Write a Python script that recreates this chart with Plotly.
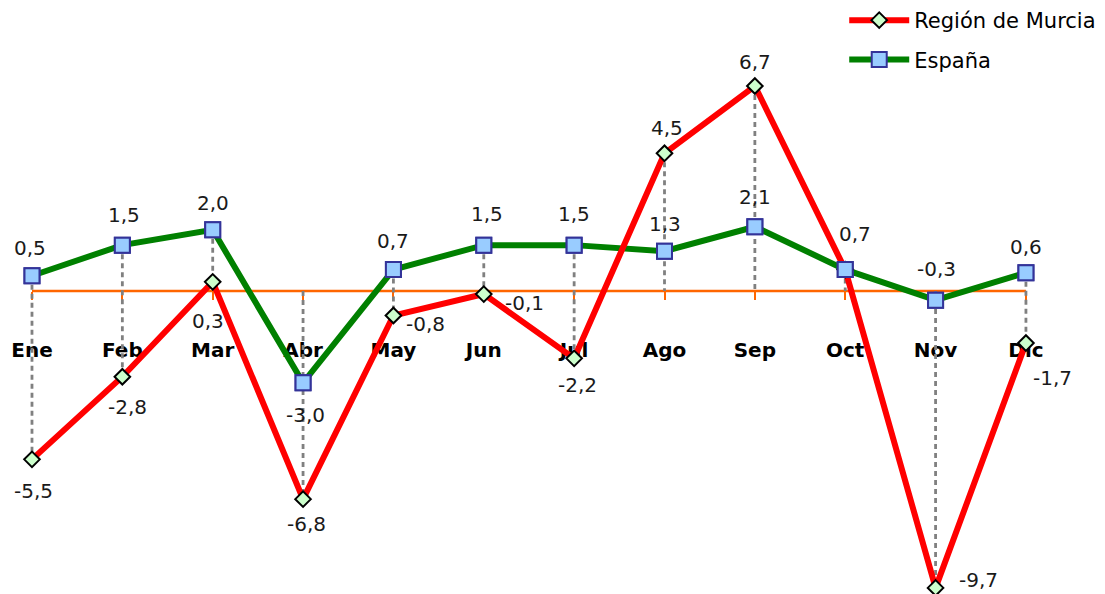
import plotly.graph_objects as go

months = ["Ene", "Feb", "Mar", "Abr", "May", "Jun", "Jul", "Ago", "Sep", "Oct", "Nov", "Dic"]
murcia = [-5.5, -2.8, 0.3, -6.8, -0.8, -0.1, -2.2, 4.5, 6.7, 0.7, -9.7, -1.7]
espana = [0.5, 1.5, 2.0, -3.0, 0.7, 1.5, 1.5, 1.3, 2.1, 0.7, -0.3, 0.6]

# label offsets (px, right / down) — style only
murcia_label_off = [(2, 32), (5, 30), (-5, 39), (3, 25), (32, 8), (41, 9),
                    (3, 27), (2, -25), (0, -24), None, (43, -8), (27, 35)]
espana_label_off = [(-2, -28), (2, -30), (0, -27), (2, 32), (0, -29), (3, -31),
                    (0, -31), (0, -27), (0, -30), (10, -36), (1, -31), (0, -26)]

def fmt(v):
    return f"{v:.1f}".replace(".", ",")

Y_MIN, Y_MAX = -9.9, 9.51
X_MIN, X_MAX = -0.354, 11.875
FONT = "DejaVu Sans"
TXT = "#1a1a1a"

fig = go.Figure()

# drop lines
dx, dy = [], []
for m, a, b in zip(months, murcia, espana):
    dx += [m, m, None]
    dy += [max(a, b, 0), min(a, b, 0), None]
fig.add_trace(go.Scatter(x=dx, y=dy, mode="lines", showlegend=False, hoverinfo="skip",
                         line=dict(color="#808080", width=2.8, dash="5px,4px")))

# zero axis line across categories
fig.add_shape(type="line", xref="x", yref="y", x0=months[0], x1=months[-1], y0=0, y1=0,
              line=dict(color="#FF6600", width=2.5), layer="below")

sq = dict(symbol="square", size=15, color="#99CCFF", line=dict(color="#333399", width=2))
dm = dict(symbol="diamond", size=12, color="#CCFFCC", line=dict(color="#000000", width=2))

fig.add_trace(go.Scatter(
    x=months, y=espana, mode="lines+markers", name="España", legendrank=2, legendgroup="e",
    line=dict(color="#008000", width=6), marker=sq,
))
fig.add_trace(go.Scatter(
    x=months, y=murcia, mode="lines+markers", name="Región de Murcia", legendrank=1,
    legendgroup="m",
    line=dict(color="#FF0000", width=6), marker=dm,
))
fig.add_trace(go.Scatter(
    x=months, y=espana, mode="markers", showlegend=False, hoverinfo="skip", legendgroup="e",
    marker=sq,
))

for vals, offs in ((espana, espana_label_off), (murcia, murcia_label_off)):
    for m, v, o in zip(months, vals, offs):
        if o is None:
            continue
        fig.add_annotation(x=m, y=v, xref="x", yref="y", text=fmt(v), showarrow=False,
                           xanchor="center", yanchor="middle", xshift=o[0], yshift=-o[1],
                           font=dict(family=FONT, size=20, color=TXT))

zero_frac = (0 - Y_MIN) / (Y_MAX - Y_MIN)

fig.update_layout(
    width=1105, height=594,
    margin=dict(l=0, r=0, t=0, b=0),
    paper_bgcolor="white", plot_bgcolor="white",
    font=dict(family=FONT, size=20, color="#000000"),
    xaxis=dict(type="category", range=[X_MIN, X_MAX], showgrid=False, zeroline=False,
               showline=False, anchor="free", position=zero_frac, layer="below traces",
               ticks="outside", ticklen=8, tickwidth=2, tickcolor="#FF6600",
               ticklabelstandoff=33,
               tickfont=dict(family=FONT, size=20, color="#000000", weight="bold")),
    yaxis=dict(range=[Y_MIN, Y_MAX], visible=False, showgrid=False, zeroline=False),
    legend=dict(x=0.764, y=1.0, xanchor="left", yanchor="top", bgcolor="rgba(0,0,0,0)",
                font=dict(family=FONT, size=21, color="#000000"), itemwidth=60,
                traceorder="grouped", tracegroupgap=9),
    showlegend=True,
)

fig.write_html("out.html", config={"displayModeBar": False},
               post_script="document.body.style.margin='0';")
